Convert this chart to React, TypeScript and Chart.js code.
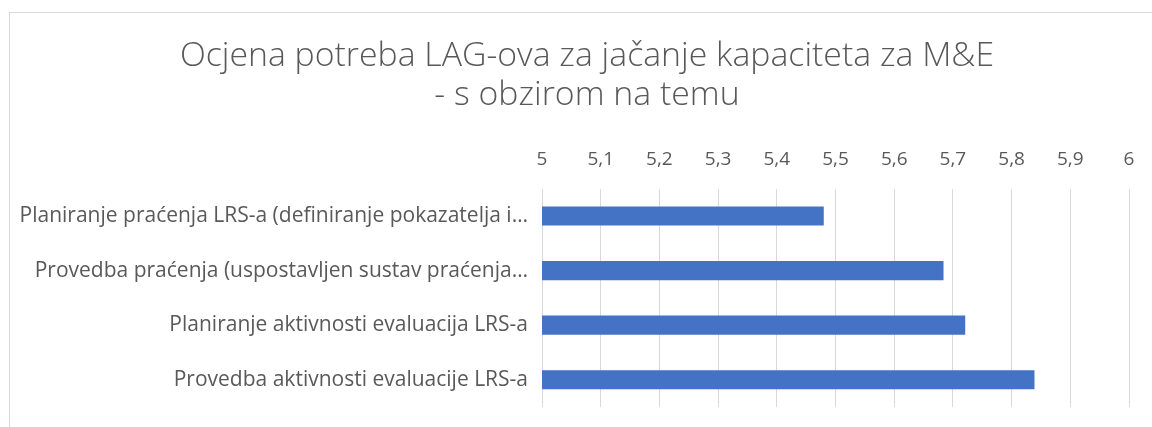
import React, { useEffect, useRef } from "react";
import { Chart, registerables } from "chart.js";

Chart.register(...registerables);

const titleLines = [
  "Ocjena potreba LAG-ova za jačanje kapaciteta za M&E",
  "- s obzirom na temu",
];

const categories = [
  "Planiranje praćenja LRS-a (definiranje pokazatelja i…",
  "Provedba praćenja (uspostavljen sustav praćenja…",
  "Planiranje aktivnosti evaluacija LRS-a",
  "Provedba aktivnosti evaluacije LRS-a",
];

const values = [5.48, 5.684, 5.721, 5.839];

const axisMin = 5;
const axisMax = 6;
const axisStep = 0.1;

const TEXT = "#595959";
const GRID = "#d9d9d9";
const BAR = "#4472C4";
const FONT = "'Open Sans'";

function fmt(v: number): string {
  return String(Math.round(v * 10) / 10).replace(".", ",");
}

export default function App() {
  const ref = useRef<HTMLCanvasElement>(null);

  useEffect(() => {
    if (!ref.current) return;
    const chart = new Chart(ref.current, {
      type: "bar",
      data: {
        labels: categories,
        datasets: [
          {
            data: values,
            backgroundColor: BAR,
            categoryPercentage: 1,
            barPercentage: 0.35,
          },
        ],
      },
      options: {
        indexAxis: "y",
        animation: false,
        responsive: false,
        maintainAspectRatio: false,
        devicePixelRatio: 1,
        layout: { padding: { left: 9, right: 9, top: 0, bottom: 20 } },
        plugins: {
          legend: { display: false },
          tooltip: { enabled: false },
          title: {
            display: true,
            text: titleLines,
            color: TEXT,
            font: { family: FONT, size: 33.8, weight: "300", lineHeight: 1.18 },
            padding: { top: 36, bottom: 0 },
          },
        },
        scales: {
          x: {
            position: "top",
            min: axisMin,
            max: axisMax,
            ticks: {
              stepSize: axisStep,
              color: TEXT,
              font: { family: FONT, size: 19 },
              padding: 18,
              callback: (v: any) => fmt(Number(v)),
            },
            grid: { color: GRID, lineWidth: 1, drawTicks: false },
            border: { display: false },
            afterFit: (s: any) => {
              s.height = 73;
            },
          },
          y: {
            grid: { display: false },
            border: { display: false },
            ticks: {
              color: TEXT,
              font: { family: FONT, size: 21 },
              padding: 6,
            },
            afterFit: (s: any) => {
              s.width = 533;
            },
          },
          yRight: {
            type: "category",
            axis: "y",
            position: "right",
            grid: { display: false },
            border: { display: false },
            ticks: { display: false },
            afterFit: (s: any) => {
              s.width = 36;
            },
          },
        },
      },
    });
    return () => chart.destroy();
  }, []);

  return (
    <div
      style={{
        position: "fixed",
        left: 0,
        top: 0,
        width: 1152,
        height: 427,
        overflow: "hidden",
        background: "#ffffff",
      }}
    >
      <div
        style={{
          position: "absolute",
          left: 9,
          top: 12,
          width: 1300,
          height: 600,
          border: "1px solid #d9d9d9",
        }}
      />
      <canvas
        ref={ref}
        width={1174}
        height={427}
        style={{ position: "absolute", left: 0, top: 0, width: 1174, height: 427 }}
      />
    </div>
  );
}
